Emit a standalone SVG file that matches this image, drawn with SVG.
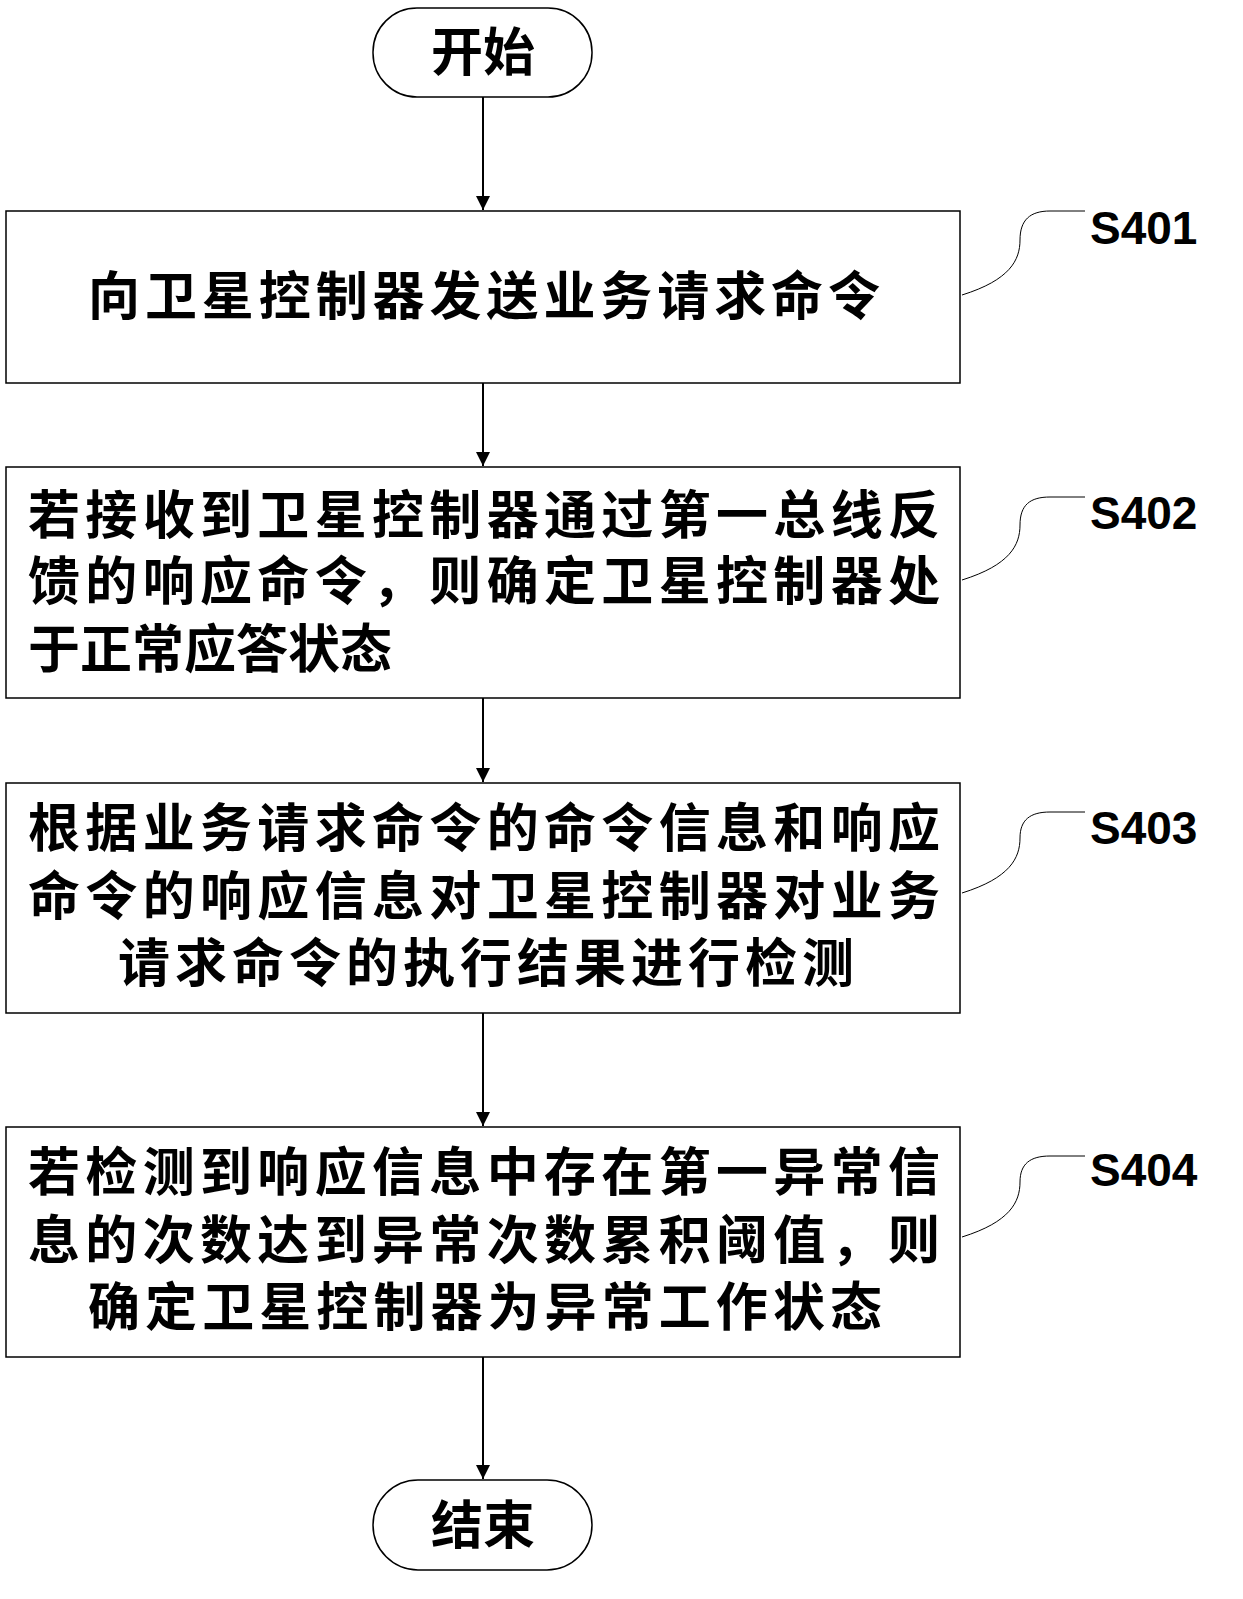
<svg xmlns="http://www.w3.org/2000/svg" width="1243" height="1599" viewBox="0 0 1243 1599">
<defs>
<marker id="ah" viewBox="0 0 10 10" refX="10" refY="5" markerWidth="24" markerHeight="14" markerUnits="userSpaceOnUse" orient="auto"><path d="M0,0 L10,5 L0,10 Z" fill="#000"/></marker>
<style>
.b{fill:#fff;stroke:#000;stroke-width:1.5}
.t{font-family:"Noto Sans CJK SC",sans-serif;font-size:52px;font-weight:bold;fill:#000}
.l{font-family:"Liberation Sans",sans-serif;font-size:46px;font-weight:bold;fill:#000}
.c{fill:none;stroke:#000;stroke-width:2}
.ld{fill:none;stroke:#000;stroke-width:1}
</style>
</defs>
<rect width="1243" height="1599" fill="#fff"/>
<g id="start"><rect class="b" x="373" y="8" width="219" height="89" rx="44"/><text class="t" x="483" y="71" text-anchor="middle">开始</text></g>
<g id="s401"><rect class="b" x="6" y="211" width="954" height="172"/><text class="t" x="88" y="315" textLength="792">向卫星控制器发送业务请求命令</text></g>
<g id="s402"><rect class="b" x="6" y="467" width="954" height="231"/>
<text class="t" x="28" y="534" textLength="912">若接收到卫星控制器通过第一总线反</text>
<text class="t" x="28" y="600" textLength="912">馈的响应命令，则确定卫星控制器处</text>
<text class="t" x="28" y="668">于正常应答状态</text></g>
<g id="s403"><rect class="b" x="6" y="783" width="954" height="230"/>
<text class="t" x="28" y="847" textLength="912">根据业务请求命令的命令信息和响应</text>
<text class="t" x="28" y="915" textLength="912">命令的响应信息对卫星控制器对业务</text>
<text class="t" x="118" y="982" textLength="736">请求命令的执行结果进行检测</text></g>
<g id="s404"><rect class="b" x="6" y="1127" width="954" height="230"/>
<text class="t" x="28" y="1191" textLength="912">若检测到响应信息中存在第一异常信</text>
<text class="t" x="28" y="1259" textLength="912">息的次数达到异常次数累积阈值，则</text>
<text class="t" x="88" y="1326" textLength="794">确定卫星控制器为异常工作状态</text></g>
<g id="end"><rect class="b" x="373" y="1480" width="219" height="90" rx="45"/><text class="t" x="483" y="1544" text-anchor="middle">结束</text></g>
<g id="connectors">
<line class="c" x1="483" y1="97" x2="483" y2="210" marker-end="url(#ah)"/>
<line class="c" x1="483" y1="383" x2="483" y2="466" marker-end="url(#ah)"/>
<line class="c" x1="483" y1="698" x2="483" y2="782" marker-end="url(#ah)"/>
<line class="c" x1="483" y1="1013" x2="483" y2="1126" marker-end="url(#ah)"/>
<line class="c" x1="483" y1="1357" x2="483" y2="1479" marker-end="url(#ah)"/>
<path class="ld" d="M962,295 C1010,280 1020,260 1020,240 C1020,220 1030,211 1050,211 L1085,211"/>
<path class="ld" d="M962,580 C1010,565 1020,545 1020,525 C1020,505 1030,497 1050,497 L1085,497"/>
<path class="ld" d="M962,893 C1010,878 1020,858 1020,838 C1020,820 1030,812 1050,812 L1085,812"/>
<path class="ld" d="M962,1237 C1010,1222 1020,1202 1020,1182 C1020,1164 1030,1156 1050,1156 L1085,1156"/>
</g>
<g id="labels">
<text class="l" x="1090" y="244">S401</text>
<text class="l" x="1090" y="529">S402</text>
<text class="l" x="1090" y="844">S403</text>
<text class="l" x="1090" y="1186">S404</text>
</g>
</svg>
